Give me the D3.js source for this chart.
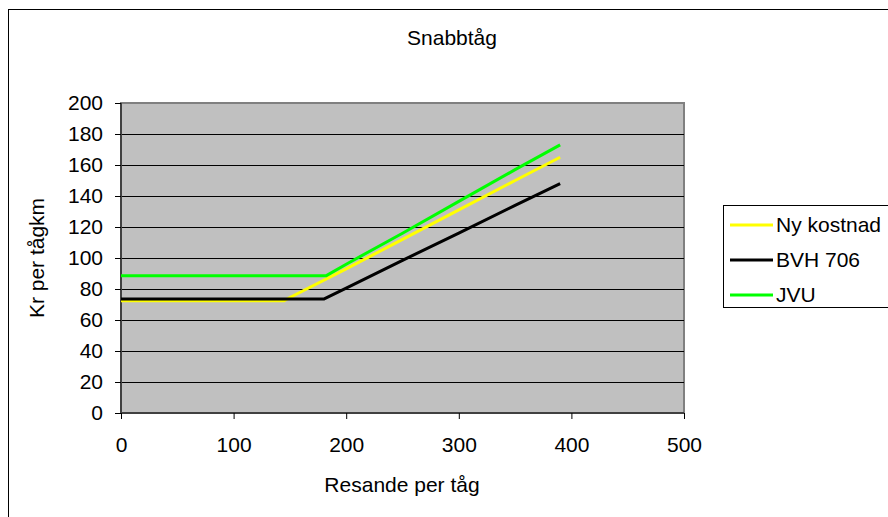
<!DOCTYPE html>
<html><head><meta charset="utf-8">
<script src="https://cdn.jsdelivr.net/npm/d3@7"></script>
<style>body{margin:0;background:#fff}svg{display:block}text{font-family:"Liberation Sans",Arial,sans-serif;fill:#000}</style>
</head><body><svg id="c" width="888" height="517"></svg>
<script>
const title = "Snabbtåg";
const xLabel = "Resande per tåg";
const yLabel = "Kr per tågkm";
const xTicks = [0,100,200,300,400,500];
const yTicks = [0,20,40,60,80,100,120,140,160,180,200];
const seriesNames = ["Ny kostnad","BVH 706","JVU"];
const seriesColors = ["#ffff00","#000000","#00ff00"];
const nyX = [0,145,150,200,250,300,350,390];
const nyY = [72.5,72.5,74.5,93,112,131,150,165];
const bvhX = [0,180,200,250,300,350,390];
const bvhY = [73.5,73.5,80.5,98.5,116,134,148];
const jvuX = [0,182,200,250,300,350,390];
const jvuY = [88.5,88.5,96,116,136.5,157,173];

const FS = 21;
const svg = d3.select("#c");
const L=121,R=684,T=103,B=413;
const x = d3.scaleLinear().domain([0,500]).range([L,R]);
const y = d3.scaleLinear().domain([0,200]).range([B,T]);

svg.append("rect").attr("x",8.5).attr("y",9.5).attr("width",900).attr("height",520)
  .attr("fill","#fff").attr("stroke","#000").attr("stroke-width",1);

svg.append("rect").attr("x",L).attr("y",T).attr("width",R-L).attr("height",B-T)
  .attr("fill","#c0c0c0").attr("stroke","#808080").attr("stroke-width",2);

// gridlines
svg.append("g").selectAll("line").data(yTicks.filter(d=>d>0&&d<200)).join("line")
  .attr("x1",L).attr("x2",R).attr("y1",d=>Math.round(y(d))+0.5).attr("y2",d=>Math.round(y(d))+0.5)
  .attr("stroke","#000").attr("stroke-width",1);

// axes
const yAxis = svg.append("g").attr("transform",`translate(${L},0)`)
  .call(d3.axisLeft(y).tickValues(yTicks).tickSize(6).tickPadding(12));
const xAxis = svg.append("g").attr("transform",`translate(0,${B})`)
  .call(d3.axisBottom(x).tickValues(xTicks).tickSize(6).tickPadding(18));
[yAxis,xAxis].forEach(g=>{
  g.select(".domain").attr("stroke","#404040").attr("stroke-width",2);
  g.selectAll(".tick line").attr("stroke","#000");
  g.selectAll("text").attr("font-size",FS).attr("font-family","Liberation Sans, Arial, sans-serif").attr("fill","#000");
});
yAxis.select(".domain").attr("d",`M0,${T}V${B}`);
xAxis.select(".domain").attr("d",`M${L},0H${R}`);

// lines
const data = [[nyX,nyY],[bvhX,bvhY],[jvuX,jvuY]];
const line = d3.line().x(d=>x(d[0])).y(d=>y(d[1]));
data.forEach((s,i)=>{
  const pts = s[0].map((v,j)=>[v,s[1][j]]);
  svg.append("path").attr("d",line(pts)).attr("fill","none")
    .attr("stroke",seriesColors[i]).attr("stroke-width",3).attr("stroke-linejoin","round");
});

// title and labels
svg.append("text").attr("x",452).attr("y",45).attr("text-anchor","middle").attr("font-size",FS).text(title);
svg.append("text").attr("x",402).attr("y",492).attr("text-anchor","middle").attr("font-size",FS).text(xLabel);
svg.append("text").attr("transform",`translate(44,${(T+B)/2}) rotate(-90)`).attr("text-anchor","middle").attr("font-size",FS).text(yLabel);

// legend
const lg = svg.append("g");
lg.append("rect").attr("x",723.5).attr("y",205.5).attr("width",200).attr("height",102)
  .attr("fill","#fff").attr("stroke","#000").attr("stroke-width",1);
seriesNames.forEach((n,i)=>{
  const yy = 225 + i*35;
  lg.append("line").attr("x1",730).attr("x2",773).attr("y1",yy).attr("y2",yy)
    .attr("stroke",seriesColors[i]).attr("stroke-width",3);
  lg.append("text").attr("x",776).attr("y",yy+7).attr("font-size",FS).text(n);
});
</script></body></html>
